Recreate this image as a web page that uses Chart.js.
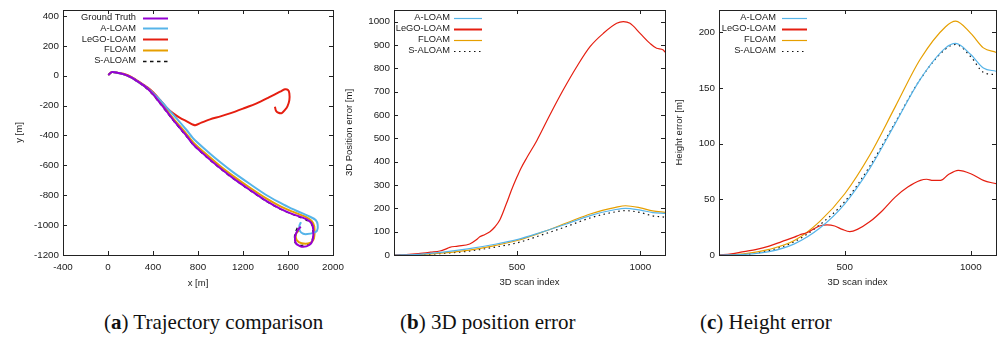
<!DOCTYPE html>
<html>
<head>
<meta charset="utf-8">
<script src="https://cdn.jsdelivr.net/npm/chart.js@4"></script>
<style>
  body { margin: 0; background: #fff; }
  #wrap { position: relative; width: 997px; height: 337px; overflow: hidden; background: #fff; }
  .panel { position: absolute; top: 0; }
  .cap { position: absolute; top: 309px; line-height: 26px;
         font-family: 'Liberation Serif', 'DejaVu Serif', serif; font-size: 21px; color: #111; white-space: nowrap; }
</style>
</head>
<body>
<div id="wrap">
  <canvas class="panel" id="chartA" width="360" height="292" style="left:0"></canvas>
  <canvas class="panel" id="chartB" width="340" height="292" style="left:330px"></canvas>
  <canvas class="panel" id="chartC" width="337" height="292" style="left:660px"></canvas>
  <div class="cap" style="left:104px">(<b>a</b>) Trajectory comparison</div>
  <div class="cap" style="left:400px">(<b>b</b>) 3D position error</div>
  <div class="cap" style="left:700px">(<b>c</b>) Height error</div>
</div>
<script>
// (a) trajectories, x / y in metres
const gtX = [3, 33, 80, 136, 210, 284, 350, 403, 460, 521, 581, 640, 700, 758, 877, 996, 1114, 1262, 1410, 1529, 1618, 1700, 1766, 1810, 1825, 1819, 1790, 1721, 1671, 1662, 1683, 1713];
const gtY = [5, 24, 20, 11, -12, -49, -85, -127, -180, -238, -297, -350, -405, -460, -542, -618, -687, -765, -840, -890, -920, -942, -962, -988, -1033, -1100, -1133, -1144, -1122, -1078, -1037, -1010];
const aloamX = [3, 33, 80, 136, 210, 284, 350, 403, 460, 521, 581, 640, 700, 758, 877, 996, 1114, 1262, 1410, 1529, 1618, 1700, 1796, 1846, 1864, 1858, 1825, 1770, 1736, 1707, 1701, 1715];
const aloamY = [5, 24, 20, 11, -12, -48, -82, -118, -160, -212, -262, -312, -365, -420, -502, -578, -647, -725, -800, -850, -885, -912, -944, -966, -999, -1037, -1052, -1060, -1058, -1040, -1005, -980];
const legoX = [3, 33, 80, 136, 210, 284, 350, 403, 460, 521, 580, 640, 700, 758, 775, 830, 907, 1000, 1084, 1200, 1321, 1430, 1529, 1573, 1600, 1612, 1612, 1595, 1573, 1545, 1515, 1493, 1484];
const legoY = [5, 25, 21, 13, -9, -44, -78, -112, -160, -214, -252, -282, -305, -328, -332, -314, -292, -272, -252, -220, -185, -145, -107, -91, -96, -118, -163, -205, -229, -250, -248, -234, -207];
const floamX = [3, 33, 80, 136, 210, 284, 350, 403, 460, 521, 581, 640, 700, 758, 877, 996, 1114, 1262, 1410, 1529, 1618, 1700, 1766, 1810, 1834, 1831, 1801, 1721, 1677, 1671, 1701];
const floamY = [5, 24, 20, 11, -12, -49, -84, -124, -175, -230, -287, -338, -392, -446, -528, -604, -672, -750, -823, -873, -903, -928, -948, -972, -1010, -1088, -1118, -1122, -1100, -1060, -1033];
const saloamX = [3, 33, 80, 136, 210, 284, 350, 403, 460, 521, 581, 640, 700, 758, 877, 996, 1114, 1262, 1410, 1529, 1618, 1700, 1766, 1810, 1822, 1815, 1780, 1710, 1665, 1658, 1670, 1690];
const saloamY = [5, 24, 19, 9, -15, -52, -90, -131, -184, -242, -301, -354, -409, -463, -546, -621, -690, -768, -842, -892, -922, -946, -968, -995, -1040, -1100, -1128, -1135, -1120, -1075, -1040, -1005];
const trajXTicks = [-400, 0, 400, 800, 1200, 1600, 2000];
const trajYTicks = [-1200, -1000, -800, -600, -400, -200, 0, 200, 400];

// (b) and (c) errors over scan index
const scanIdx = [1, 100, 200, 300, 400, 500, 600, 700, 800, 900, 940, 1000, 1050, 1100];
const posAloam = [0, 3, 12, 26, 44, 66, 98, 133, 170, 195, 200, 192, 182, 178];
const posFloam = [0, 2, 9, 20, 38, 62, 97, 137, 177, 204, 211, 202, 189, 183];
const posSaloam = [0, 1, 7, 16, 32, 52, 86, 122, 160, 185, 190, 182, 168, 162];
const posLegoIdx = [1, 50, 100, 150, 187, 210, 227, 260, 308, 335, 349, 370, 390, 410, 430, 455, 480, 500, 515, 540, 580, 633, 687, 742, 796, 850, 904, 931, 958, 999, 1039, 1066, 1093, 1100];
const posLego = [0, 2, 6, 12, 17, 25, 33, 38, 47, 65, 78, 88, 100, 120, 150, 215, 285, 335, 370, 418, 490, 600, 707, 807, 893, 950, 993, 1000, 993, 950, 907, 886, 879, 869];

const hgtAloam = [0, 0.5, 3, 10, 24, 46, 78, 118, 158, 186, 190, 180, 168, 165];
const hgtFloam = [0, 1, 5, 13, 30, 55, 90, 133, 176, 205, 210, 199, 186, 182];
const hgtSaloam = [0, 0.5, 4, 12, 27, 48, 80, 119, 158, 185, 189, 178, 164, 162];
const hgtLegoIdx = [1, 50, 100, 150, 200, 250, 300, 320, 350, 400, 430, 460, 490, 520, 550, 600, 650, 700, 750, 800, 825, 850, 880, 910, 950, 1000, 1050, 1100];
const hgtLego = [0, 1, 3, 5, 8, 12, 16, 18, 20, 26, 27, 26, 23, 21, 23, 30, 40, 52, 61, 67, 68, 67, 67, 72, 76, 73, 67, 64];

const scanTicks = [500, 1000];
const posTicks = [0, 100, 200, 300, 400, 500, 600, 700, 800, 900, 1000];
const hgtTicks = [0, 50, 100, 150, 200];

const PURPLE = '#9400d3', BLUE = '#56b4e9', RED = '#e51e10', ORANGE = '#e69f00', BLACK = '#111';
const FONT = '"Liberation Sans", Arial, sans-serif';
const TXT = '#1a1a1a';

const zip = (xs, ys) => xs.map((x, i) => ({ x, y: ys[i] }));

const frame = {
  id: 'frame',
  afterDatasetsDraw(chart) {
    const { ctx, chartArea: a, scales } = chart;
    ctx.save();
    ctx.strokeStyle = '#222';
    ctx.lineWidth = 1;
    ctx.setLineDash([]);
    ctx.beginPath();
    scales.x.ticks.forEach(t => {
      const p = Math.round(scales.x.getPixelForValue(t.value)) + 0.5;
      ctx.moveTo(p, a.bottom); ctx.lineTo(p, a.bottom - 4);
      ctx.moveTo(p, a.top); ctx.lineTo(p, a.top + 4);
    });
    scales.y.ticks.forEach(t => {
      const p = Math.round(scales.y.getPixelForValue(t.value)) + 0.5;
      ctx.moveTo(a.left, p); ctx.lineTo(a.left + 4, p);
      ctx.moveTo(a.right, p); ctx.lineTo(a.right - 4, p);
    });
    ctx.stroke();
    ctx.strokeRect(Math.round(a.left) + 0.5, Math.round(a.top) + 0.5, Math.round(a.right - a.left), Math.round(a.bottom - a.top));
    ctx.restore();
  }
};

// gnuplot style key: label right aligned, sample line to the right
const keyBox = {
  id: 'keyBox',
  afterDraw(chart, args, o) {
    const ctx = chart.ctx;
    ctx.save();
    ctx.font = '9.3px ' + FONT;
    ctx.textAlign = 'right';
    ctx.textBaseline = 'middle';
    chart.data.datasets.forEach((ds, i) => {
      const y = o.top + i * o.row;
      ctx.fillStyle = TXT;
      ctx.fillText(ds.label, o.textRight, y);
      ctx.strokeStyle = ds.borderColor;
      ctx.lineWidth = ds.keyWidth || ds.borderWidth;
      ctx.setLineDash(ds.borderDash || []);
      ctx.beginPath();
      ctx.moveTo(o.x1, Math.round(y) + 0.5);
      ctx.lineTo(o.x2, Math.round(y) + 0.5);
      ctx.stroke();
    });
    ctx.restore();
  }
};

function axis(min, max, tickVals, title, fix) {
  return {
    type: 'linear', min, max,
    grid: { display: false, drawTicks: false },
    border: { display: false },
    ticks: { color: TXT, font: { family: FONT, size: 9.8 }, maxRotation: 0, autoSkip: false, callback: v => String(v) },
    title: { display: true, text: title, color: TXT, font: { family: FONT, size: 9.5 } },
    afterBuildTicks(s) { s.ticks = tickVals.map(v => ({ value: v })); },
    afterFit(s) {
      if (fix.w) s.width = fix.w;
      if (fix.h) s.height = fix.h;
      s.paddingLeft = 0; s.paddingRight = 0; s.paddingTop = 0; s.paddingBottom = 0;
    }
  };
}

function baseOptions(padRight, xAx, yAx, key) {
  return {
    responsive: false,
    animation: false,
    devicePixelRatio: 1,
    layout: { padding: { left: 0, right: padRight, top: 10, bottom: 0 } },
    plugins: { legend: { display: false }, tooltip: { enabled: false }, keyBox: key },
    elements: { point: { radius: 0 } },
    scales: { x: xAx, y: yAx }
  };
}

function xTitle(ax, bottomPad) { ax.title.padding = { top: 0, bottom: bottomPad }; ax.ticks.padding = 6; return ax; }
function yTitle(ax, leftPad) { ax.title.padding = { top: leftPad, bottom: 0 }; ax.ticks.padding = 4; return ax; }

// (a)
const trajLine = (label, xs, ys, color, dash) => ({
  label, data: zip(xs, ys), borderColor: color, borderWidth: dash ? 1.3 : 2, borderDash: dash,
  keyWidth: dash ? 1.3 : 2, showLine: true, tension: 0.25, fill: false
});
new Chart(document.getElementById('chartA'), {
  type: 'scatter',
  data: {
    datasets: [
      trajLine('Ground Truth', gtX, gtY, PURPLE),
      trajLine('A-LOAM', aloamX, aloamY, BLUE),
      trajLine('LeGO-LOAM', legoX, legoY, RED),
      trajLine('FLOAM', floamX, floamY, ORANGE),
      trajLine('S-ALOAM', saloamX, saloamY, BLACK, [3.5, 3.5])
    ]
  },
  options: baseOptions(27,
    xTitle(axis(-400, 2000, trajXTicks, 'x [m]', { h: 37 }), 3),
    yTitle(axis(-1200, 440, trajYTicks, 'y [m]', { w: 63 }), 14),
    { textRight: 136, x1: 143, x2: 168, top: 17.5, row: 10.8 }),
  plugins: [frame, keyBox]
});

const errLine = (label, xs, ys, color, dash, keyWidth) => ({
  label, data: zip(xs, ys), borderColor: color, borderWidth: 1.2, borderDash: dash,
  keyWidth: keyWidth || 1.2, cubicInterpolationMode: 'monotone', fill: false
});

// (b)
new Chart(document.getElementById('chartB'), {
  type: 'line',
  data: {
    datasets: [
      errLine('A-LOAM', scanIdx, posAloam, BLUE),
      errLine('LeGO-LOAM', posLegoIdx, posLego, RED, undefined, 2),
      errLine('FLOAM', scanIdx, posFloam, ORANGE),
      errLine('S-ALOAM', scanIdx, posSaloam, BLACK, [1.5, 3.5])
    ]
  },
  options: baseOptions(5,
    xTitle(axis(1, 1100, scanTicks, '3D scan index', { h: 37 }), 4),
    yTitle(axis(0, 1050, posTicks, '3D Position error [m]', { w: 64 }), 14),
    { textRight: 120, x1: 124, x2: 152, top: 17.5, row: 11 }),
  plugins: [frame, keyBox]
});

// (c)
new Chart(document.getElementById('chartC'), {
  type: 'line',
  data: {
    datasets: [
      errLine('A-LOAM', scanIdx, hgtAloam, BLUE),
      errLine('LeGO-LOAM', hgtLegoIdx, hgtLego, RED, undefined, 2),
      errLine('FLOAM', scanIdx, hgtFloam, ORANGE),
      errLine('S-ALOAM', scanIdx, hgtSaloam, BLACK, [1.5, 3.5])
    ]
  },
  options: baseOptions(1,
    xTitle(axis(1, 1100, scanTicks, '3D scan index', { h: 37 }), 4),
    yTitle(axis(0, 220, hgtTicks, 'Height error [m]', { w: 59 }), 14),
    { textRight: 116, x1: 122, x2: 147, top: 17.5, row: 11 }),
  plugins: [frame, keyBox]
});
</script>
</body>
</html>
